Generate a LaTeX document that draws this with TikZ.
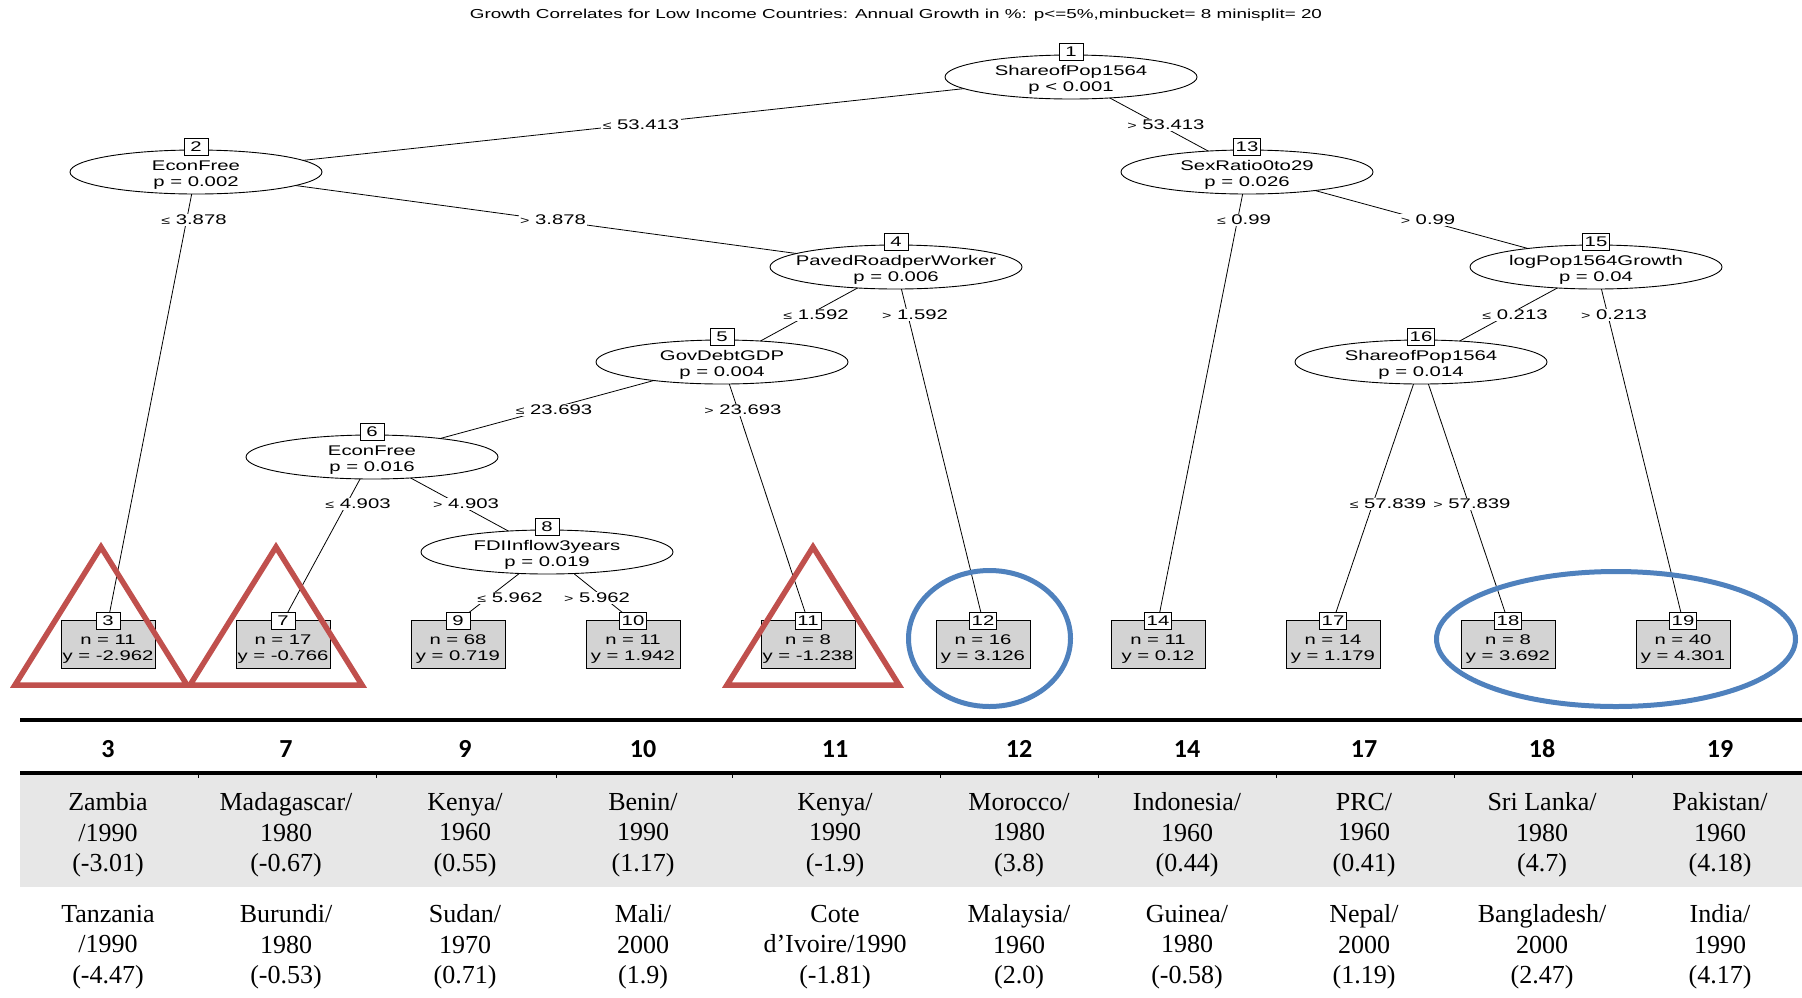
\documentclass[tikz,border=0pt]{standalone}
\usepackage{fontspec}
\setmainfont{Liberation Serif}
\newfontfamily\treefont[FakeStretch=1.45]{Liberation Sans}
\newfontfamily\hdrfont{Carlito}
\usetikzlibrary{shapes.geometric,backgrounds}
\definecolor{trired}{HTML}{C0504D}
\definecolor{ringblue}{HTML}{4F81BD}
\definecolor{leafgray}{HTML}{D3D3D3}
\definecolor{bandgray}{HTML}{E7E7E7}
\newcommand\treesize{\treefont\fontsize{14}{16.5}\selectfont}
\newcommand\mylesym{{\fontsize{11}{11}\selectfont ≤}}
\newcommand\mygtsym{{\fontsize{11}{11}\selectfont >}}
\begin{document}
\begin{tikzpicture}[x=1pt,y=-1pt,
  split/.style={ellipse,draw,line width=0.9pt,fill=white,minimum width=252pt,minimum height=44pt,inner sep=0pt},
  splittext/.style={align=center,inner sep=0pt,font=\treesize},
  idbox/.style={draw,line width=0.9pt,fill=white,minimum width=24pt,minimum height=17pt,inner xsep=2.5pt,inner ysep=0pt,font=\treesize},
  leafbox/.style={draw,line width=0.9pt,fill=leafgray,minimum width=94pt,minimum height=48pt,inner sep=0pt},
  leaftext/.style={align=center,inner sep=0pt,font=\treesize},
  elab/.style={fill=white,inner xsep=1.5pt,inner ysep=1pt,font=\treesize},
  tedge/.style={line width=0.8pt},
  redtri/.style={draw=trired,line width=5.5pt,line join=miter},
  bluering/.style={draw=ringblue,line width=5pt},
  hdr/.style={font=\hdrfont\bfseries\fontsize{26}{30}\selectfont,inner sep=0pt},
  cell/.style={align=center,font=\fontsize{26}{30.5}\selectfont,inner sep=0pt},
]
\useasboundingbox (0,0) rectangle (1802,997);

% title
\node (title) at (896,15) {\treefont\fontsize{13}{15}\selectfont Growth Correlates for Low Income Countries: Annual Growth in \%: p<=5\%,minbucket= 8 minisplit= 20};

% inner nodes
\node[split] (n1) at (1071,77) {};
\node[splittext] (t1) at (1071,80) {ShareofPop1564\\p < 0.001};
\node[idbox] (i1) at (1071,52) {1};
\node[split] (n2) at (196,172) {};
\node[splittext] (t2) at (196,175) {EconFree\\p = 0.002};
\node[idbox] (i2) at (196,147) {2};
\node[split] (n13) at (1247,172) {};
\node[splittext] (t13) at (1247,175) {SexRatio0to29\\p = 0.026};
\node[idbox] (i13) at (1247,147) {13};
\node[split] (n4) at (896,267) {};
\node[splittext] (t4) at (896,270) {PavedRoadperWorker\\p = 0.006};
\node[idbox] (i4) at (896,242) {4};
\node[split] (n15) at (1596,267) {};
\node[splittext] (t15) at (1596,270) {logPop1564Growth\\p = 0.04};
\node[idbox] (i15) at (1596,242) {15};
\node[split] (n5) at (722,362) {};
\node[splittext] (t5) at (722,365) {GovDebtGDP\\p = 0.004};
\node[idbox] (i5) at (722,337) {5};
\node[split] (n16) at (1421,362) {};
\node[splittext] (t16) at (1421,365) {ShareofPop1564\\p = 0.014};
\node[idbox] (i16) at (1421,337) {16};
\node[split] (n6) at (372,457) {};
\node[splittext] (t6) at (372,460) {EconFree\\p = 0.016};
\node[idbox] (i6) at (372,432) {6};
\node[split] (n8) at (547,552) {};
\node[splittext] (t8) at (547,555) {FDIInflow3years\\p = 0.019};
\node[idbox] (i8) at (547,527) {8};

% leaves
\node[leafbox] (l3) at (108,644) {};
\node[leaftext] (lt3) at (108,649) {n = 11\\y = -2.962};
\node[idbox] (b3) at (108,621) {3};
\node[leafbox] (l7) at (283,644) {};
\node[leaftext] (lt7) at (283,649) {n = 17\\y = -0.766};
\node[idbox] (b7) at (283,621) {7};
\node[leafbox] (l9) at (458,644) {};
\node[leaftext] (lt9) at (458,649) {n = 68\\y = 0.719};
\node[idbox] (b9) at (458,621) {9};
\node[leafbox] (l10) at (633,644) {};
\node[leaftext] (lt10) at (633,649) {n = 11\\y = 1.942};
\node[idbox] (b10) at (633,621) {10};
\node[leafbox] (l11) at (808,644) {};
\node[leaftext] (lt11) at (808,649) {n = 8\\y = -1.238};
\node[idbox] (b11) at (808,621) {11};
\node[leafbox] (l12) at (983,644) {};
\node[leaftext] (lt12) at (983,649) {n = 16\\y = 3.126};
\node[idbox] (b12) at (983,621) {12};
\node[leafbox] (l14) at (1158,644) {};
\node[leaftext] (lt14) at (1158,649) {n = 11\\y = 0.12};
\node[idbox] (b14) at (1158,621) {14};
\node[leafbox] (l17) at (1333,644) {};
\node[leaftext] (lt17) at (1333,649) {n = 14\\y = 1.179};
\node[idbox] (b17) at (1333,621) {17};
\node[leafbox] (l18) at (1508,644) {};
\node[leaftext] (lt18) at (1508,649) {n = 8\\y = 3.692};
\node[idbox] (b18) at (1508,621) {18};
\node[leafbox] (l19) at (1683,644) {};
\node[leaftext] (lt19) at (1683,649) {n = 40\\y = 4.301};
\node[idbox] (b19) at (1683,621) {19};

% edges
\begin{scope}[on background layer]
\draw[tedge] (n1.center) -- (n2.center);
\draw[tedge] (n1.center) -- (n13.center);
\draw[tedge] (n2.center) -- (b3.center);
\draw[tedge] (n2.center) -- (n4.center);
\draw[tedge] (n4.center) -- (n5.center);
\draw[tedge] (n4.center) -- (b12.center);
\draw[tedge] (n5.center) -- (n6.center);
\draw[tedge] (n5.center) -- (b11.center);
\draw[tedge] (n6.center) -- (b7.center);
\draw[tedge] (n6.center) -- (n8.center);
\draw[tedge] (n8.center) -- (b9.center);
\draw[tedge] (n8.center) -- (b10.center);
\draw[tedge] (n13.center) -- (b14.center);
\draw[tedge] (n13.center) -- (n15.center);
\draw[tedge] (n15.center) -- (n16.center);
\draw[tedge] (n15.center) -- (b19.center);
\draw[tedge] (n16.center) -- (b17.center);
\draw[tedge] (n16.center) -- (b18.center);
\end{scope}

% edge labels
\node[elab] (e1) at (641,125) {\mylesym\ 53.413};
\node[elab] (e2) at (1166,125) {\mygtsym\ 53.413};
\node[elab] (e3) at (194,220) {\mylesym\ 3.878};
\node[elab] (e4) at (553,220) {\mygtsym\ 3.878};
\node[elab] (e5) at (1244,220) {\mylesym\ 0.99};
\node[elab] (e6) at (1428,220) {\mygtsym\ 0.99};
\node[elab] (e7) at (816,315) {\mylesym\ 1.592};
\node[elab] (e8) at (915,315) {\mygtsym\ 1.592};
\node[elab] (e9) at (1515,315) {\mylesym\ 0.213};
\node[elab] (e10) at (1614,315) {\mygtsym\ 0.213};
\node[elab] (e11) at (554,410) {\mylesym\ 23.693};
\node[elab] (e12) at (743,410) {\mygtsym\ 23.693};
\node[elab] (e13) at (358,504) {\mylesym\ 4.903};
\node[elab] (e14) at (466,504) {\mygtsym\ 4.903};
\node[elab] (e15) at (1388,504) {\mylesym\ 57.839};
\node[elab] (e16) at (1472,504) {\mygtsym\ 57.839};
\node[elab] (e17) at (510,598) {\mylesym\ 5.962};
\node[elab] (e18) at (597,598) {\mygtsym\ 5.962};

% highlights
\draw[redtri] (101,547) -- (187,685) -- (15,685) -- cycle;
\draw[redtri] (276,547) -- (362,685) -- (190,685) -- cycle;
\draw[redtri] (813,547) -- (899,685) -- (727,685) -- cycle;
\draw[bluering] (989.5,638.5) ellipse [x radius=81pt, y radius=68pt];
\draw[bluering] (1616,639) ellipse [x radius=179.5pt, y radius=67.5pt];

% table
\fill[bandgray] (20,775) rectangle (1802,887);
\draw[line width=4pt] (20,719.5) -- (1802,719.5);
\draw[line width=3.3pt] (20,773) -- (1802,773);
\foreach \tx in {198,376,556,732,940,1098,1276,1454,1632}
  \draw[line width=1pt] (\tx,774) -- (\tx,778);

\node[hdr] (h3) at (108,749) {3};
\node[hdr] (h7) at (286,749) {7};
\node[hdr] (h9) at (465,749) {9};
\node[hdr] (h10) at (643,749) {10};
\node[hdr] (h11) at (835,749) {11};
\node[hdr] (h12) at (1019,749) {12};
\node[hdr] (h14) at (1187,749) {14};
\node[hdr] (h17) at (1364,749) {17};
\node[hdr] (h18) at (1542,749) {18};
\node[hdr] (h19) at (1720,749) {19};

\node[cell] (a3) at (108,835) {Zambia\\/1990\\(-3.01)};
\node[cell] (a7) at (286,835) {Madagascar/\\1980\\(-0.67)};
\node[cell] (a9) at (465,835) {Kenya/\\1960\\(0.55)};
\node[cell] (a10) at (643,835) {Benin/\\1990\\(1.17)};
\node[cell] (a11) at (835,835) {Kenya/\\1990\\(-1.9)};
\node[cell] (a12) at (1019,835) {Morocco/\\1980\\(3.8)};
\node[cell] (a14) at (1187,835) {Indonesia/\\1960\\(0.44)};
\node[cell] (a17) at (1364,835) {PRC/\\1960\\(0.41)};
\node[cell] (a18) at (1542,835) {Sri Lanka/\\1980\\(4.7)};
\node[cell] (a19) at (1720,835) {Pakistan/\\1960\\(4.18)};

\node[cell] (c3) at (108,947) {Tanzania\\/1990\\(-4.47)};
\node[cell] (c7) at (286,947) {Burundi/\\1980\\(-0.53)};
\node[cell] (c9) at (465,947) {Sudan/\\1970\\(0.71)};
\node[cell] (c10) at (643,947) {Mali/\\2000\\(1.9)};
\node[cell] (c11) at (835,947) {Cote\\d’Ivoire/1990\\(-1.81)};
\node[cell] (c12) at (1019,947) {Malaysia/\\1960\\(2.0)};
\node[cell] (c14) at (1187,947) {Guinea/\\1980\\(-0.58)};
\node[cell] (c17) at (1364,947) {Nepal/\\2000\\(1.19)};
\node[cell] (c18) at (1542,947) {Bangladesh/\\2000\\(2.47)};
\node[cell] (c19) at (1720,947) {India/\\1990\\(4.17)};
\end{tikzpicture}
\end{document}
